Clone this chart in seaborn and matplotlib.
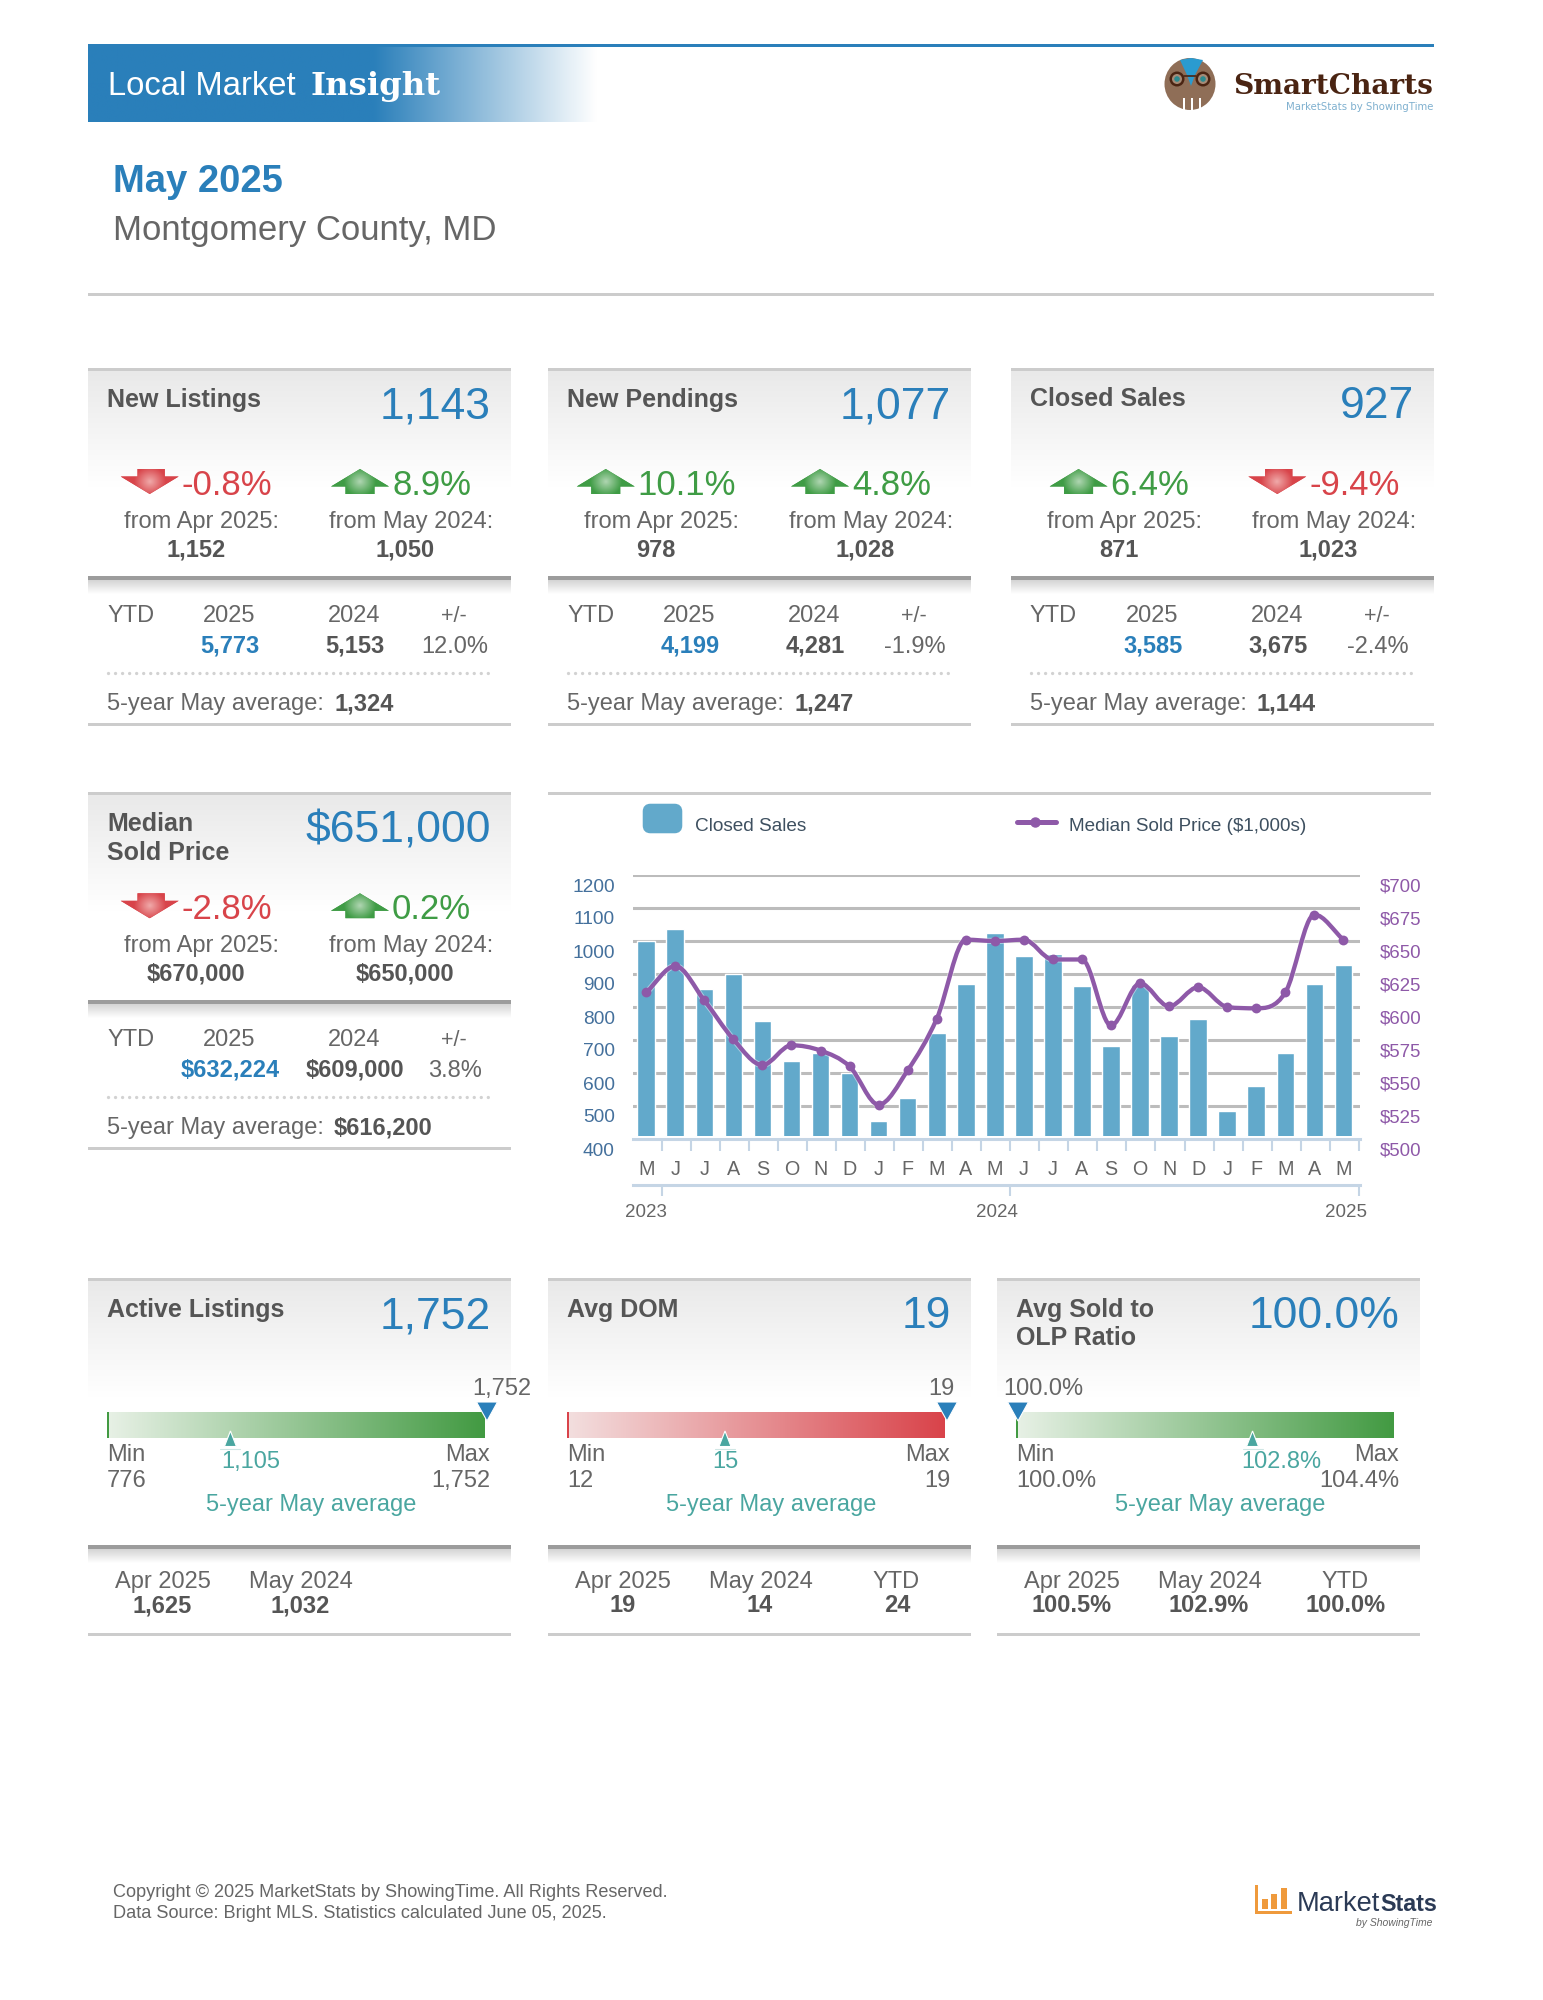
import numpy as np
import matplotlib.pyplot as plt
import pandas as pd
import seaborn as sns
from matplotlib.colors import to_rgb
from matplotlib.patches import Polygon, Rectangle, FancyBboxPatch, Ellipse, Circle, PathPatch
from matplotlib.path import Path
from matplotlib.transforms import ScaledTranslation
import matplotlib.patheffects as pe

# combo chart data
month_labels = ['M', 'J', 'J', 'A', 'S', 'O', 'N', 'D', 'J', 'F', 'M', 'A',
                'M', 'J', 'J', 'A', 'S', 'O', 'N', 'D', 'J', 'F', 'M', 'A', 'M']
closed_sales = [1000, 1036, 855, 901, 758, 636, 660, 600, 455, 523, 720, 871,
                1023, 954, 961, 864, 682, 867, 712, 764, 485, 561, 660, 871, 927]
median_price = [611, 631, 605, 575.5, 556, 571, 567, 555, 526, 552, 591, 651,
                650, 651, 636, 636, 586, 618, 600.5, 615, 600, 599, 611, 670, 651]
left_ticks = [400, 500, 600, 700, 800, 900, 1000, 1100, 1200]
right_ticks = ['$500', '$525', '$550', '$575', '$600', '$625', '$650', '$675', '$700']
year_labels = ['2023', '2024', '2025']

# top cards
kpi_titles = ['New Listings', 'New Pendings', 'Closed Sales', 'Median\nSold Price']
kpi_values = ['1,143', '1,077', '927', '$651,000']
kpi_prev_pct = ['-0.8%', '10.1%', '6.4%', '-2.8%']
kpi_year_pct = ['8.9%', '4.8%', '-9.4%', '0.2%']
kpi_prev_val = ['1,152', '978', '871', '$670,000']
kpi_year_val = ['1,050', '1,028', '1,023', '$650,000']
ytd_2025 = ['5,773', '4,199', '3,585', '$632,224']
ytd_2024 = ['5,153', '4,281', '3,675', '$609,000']
ytd_change = ['12.0%', '-1.9%', '-2.4%', '3.8%']
five_year = ['1,324', '1,247', '1,144', '$616,200']

# bottom cards
gauge_titles = ['Active Listings', 'Avg DOM', 'Avg Sold to\nOLP Ratio']
gauge_values = ['1,752', '19', '100.0%']
gauge_low = [776, 12, 100.0]
gauge_high = [1752, 19, 104.4]
gauge_current = [1752, 19, 100.0]
gauge_avg = [1105, 15, 102.8]
gauge_low_lab = ['776', '12', '100.0%']
gauge_high_lab = ['1,752', '19', '104.4%']
gauge_avg_lab = ['1,105', '15', '102.8%']
gauge_apr = ['1,625', '19', '100.5%']
gauge_may = ['1,032', '14', '102.9%']
gauge_ytd = [None, '24', '100.0%']

BLUE = '#2a7fba'
GREY = '#666666'
DARK = '#555555'
RED = '#d8444a'
GREEN = '#3f9c45'
TEAL = '#4aa6a0'
PURPLE = '#8e59a8'
BAR = '#62a9cb'
RULE = '#cccccc'

sns.set_theme(style='white')
plt.rcParams['font.family'] = ['Liberation Sans', 'DejaVu Sans']

fig = plt.figure(figsize=(15.43, 20), dpi=100)
bg = fig.add_axes([0, 0, 1, 1])
bg.set_xlim(0, 1543)
bg.set_ylim(2000, 0)
bg.set_autoscale_on(False)
bg.axis('off')
renderer = fig.canvas.get_renderer()


def ramp(c0, c1, n=256):
    c0, c1 = np.array(to_rgb(c0)), np.array(to_rgb(c1))
    t = np.linspace(0, 1, n)[:, None]
    return c0 + (c1 - c0) * t


def vgrad(x0, x1, y0, y1, c0, c1):
    bg.imshow(ramp(c0, c1)[:, None, :], extent=(x0, x1, y1, y0), aspect='auto', zorder=1)


def hgrad(x0, x1, y0, y1, c0, c1):
    bg.imshow(ramp(c0, c1)[None, :, :], extent=(x0, x1, y1, y0), aspect='auto', zorder=1)


def txt(x, y, s, size=17, color=GREY, ha='left', weight='normal', **kw):
    return bg.text(x, y, s, fontsize=size, color=color, ha=ha, va='baseline', weight=weight, zorder=5, **kw)


def rule(x0, x1, y, color=RULE, h=3):
    bg.add_patch(Rectangle((x0, y - h / 2), x1 - x0, h, color=color, lw=0, zorder=2))


def card_frame(x0, top, shadow_y):
    rule(x0, x0 + 423, top)
    vgrad(x0, x0 + 423, top + 1, top + 118, '#e9e9e9', '#ffffff')
    bg.add_patch(Rectangle((x0, shadow_y - 2), 423, 4, color='#9c9c9c', lw=0, zorder=2))
    vgrad(x0, x0 + 423, shadow_y + 2, shadow_y + 16, '#d4d4d4', '#ffffff')
    rule(x0, x0 + 423, top + 355)


def card_title(x0, top, title, value):
    for i, line in enumerate(title.split('\n')):
        txt(x0 + 19, top + 37.5 + i * 28.7, line, size=18, color=DARK, weight='bold')
    txt(x0 + 403, top + 49.5, value, size=32, color=BLUE, ha='right')


def draw_arrow(x, y, up):
    w, h = 58, 25
    if up:
        pts = [(.5, 0), (1, .7), (.75, .7), (.75, 1), (.25, 1), (.25, .7), (0, .7)]
        base, light = GREEN, '#b0d6b2'
    else:
        pts = [(.29, 0), (.76, 0), (.76, .3), (1, .3), (.5, 1), (0, .3), (.29, .3)]
        base, light = RED, '#f0aaaa'
    poly = Polygon([(x + a * w, y + b * h) for a, b in pts], closed=True, color=base, lw=0, zorder=3)
    bg.add_patch(poly)
    X, Y = np.meshgrid(np.linspace(0, 1, 60), np.linspace(0, 1, 30))
    t = np.clip(1 - np.hypot((X - .5) / .28, (Y - .5) / .6), 0, 1)[:, :, None]
    arr = np.array(to_rgb(base)) + (np.array(to_rgb(light)) - np.array(to_rgb(base))) * t
    im = bg.imshow(arr, extent=(x, x + w, y + h, y), aspect='auto', zorder=3, interpolation='bilinear')
    im.set_clip_path(poly)


def pct_group(center, top, s):
    up = not s.startswith('-')
    t = txt(0, top + 126, s, size=25, color=GREEN if up else RED)
    w = t.get_window_extent(renderer).width
    left = center - (61 + w) / 2
    t.set_x(left + 61)
    draw_arrow(left, top + 100, up)


def top_card(i, x0, top):
    card_frame(x0, top, top + 209)
    card_title(x0, top, kpi_titles[i], kpi_values[i])
    pct_group(x0 + 108.5, top, kpi_prev_pct[i])
    pct_group(x0 + 313, top, kpi_year_pct[i])
    txt(x0 + 113.5, top + 159, 'from Apr 2025:', ha='center')
    txt(x0 + 323, top + 159, 'from May 2024:', ha='center')
    txt(x0 + 108, top + 187.7, kpi_prev_val[i], color=DARK, ha='center', weight='bold')
    txt(x0 + 317, top + 187.7, kpi_year_val[i], color=DARK, ha='center', weight='bold')
    txt(x0 + 19, top + 252.7, 'YTD')
    txt(x0 + 141, top + 252.7, '2025', ha='center')
    txt(x0 + 266, top + 252.7, '2024', ha='center')
    txt(x0 + 366, top + 252.7, '+/-', size=15.5, ha='center')
    txt(x0 + 142, top + 283.7, ytd_2025[i], color=BLUE, ha='center', weight='bold')
    txt(x0 + 267, top + 283.7, ytd_2024[i], color=DARK, ha='center', weight='bold')
    txt(x0 + 367, top + 283.7, ytd_change[i], ha='center')
    bg.plot([x0 + 20, x0 + 400], [top + 304, top + 304], color='#d2d2d2', lw=2.4,
            ls=(0, (0.01, 2.1)), dash_capstyle='round', zorder=2)
    txt(x0 + 19, top + 341, '5-year May average:')
    txt(x0 + 246, top + 341, five_year[i], color=DARK, weight='bold')


def gauge_card(i, x0, top, cur_dx, avg_dx, start, end):
    card_frame(x0, top, top + 268)
    card_title(x0, top, gauge_titles[i], gauge_values[i])
    bar_l, bar_w = x0 + 19, 378
    hgrad(bar_l, bar_l + bar_w, top + 133, top + 159, start, end)
    bg.add_patch(Rectangle((bar_l, top + 133), 2, 26, color=end, lw=0, zorder=2))

    frac = (gauge_current[i] - gauge_low[i]) / (gauge_high[i] - gauge_low[i])
    tip = bar_l + frac * bar_w + 2
    bg.add_patch(Polygon([(tip - 10.5, top + 123), (tip + 10.5, top + 123), (tip, top + 142)],
                         closed=True, facecolor=BLUE, edgecolor='white', lw=0.8, zorder=4))
    lab = f'{gauge_current[i]:,}' if i < 2 else f'{gauge_current[i]:.1f}%'
    txt(tip + cur_dx, top + 116, lab, ha='center')

    frac = (gauge_avg[i] - gauge_low[i]) / (gauge_high[i] - gauge_low[i])
    avg_x = bar_l + frac * bar_w - 4
    bg.add_patch(Polygon([(avg_x - 6, top + 167.5), (avg_x + 6, top + 167.5), (avg_x, top + 152)],
                         closed=True, facecolor=TEAL, edgecolor='white', lw=0.8, zorder=4))
    bg.plot([avg_x - 10, avg_x + 10], [top + 169.5, top + 169.5], color='#cfe6e4', lw=0.8, zorder=3)
    txt(avg_x + avg_dx, top + 189.3, gauge_avg_lab[i], color=TEAL, ha='center')

    txt(x0 + 19, top + 181.7, 'Min')
    txt(x0 + 19, top + 208.3, gauge_low_lab[i])
    txt(x0 + 402, top + 181.7, 'Max', ha='right')
    txt(x0 + 402, top + 208.3, gauge_high_lab[i], ha='right')
    txt(x0 + 223, top + 231.7, '5-year May average', color=TEAL, ha='center')

    txt(x0 + 75, top + 308.7, 'Apr 2025', ha='center')
    txt(x0 + 212.5, top + 308.7, 'May 2024', ha='center')
    txt(x0 + 74.5, top + 333.3, gauge_apr[i], color=DARK, ha='center', weight='bold')
    txt(x0 + 212, top + 333.3, gauge_may[i], color=DARK, ha='center', weight='bold')
    if gauge_ytd[i]:
        txt(x0 + 348, top + 308.7, 'YTD', ha='center')
        txt(x0 + 349, top + 333.3, gauge_ytd[i], color=DARK, ha='center', weight='bold')


def smooth_path(xs, ys):
    # monotone bezier through the values, same look as the chart's spline
    ys = np.asarray(ys, dtype=float)
    d = np.diff(ys)
    m = np.zeros(len(ys))
    m[0], m[-1] = d[0], d[-1]
    for k in range(1, len(ys) - 1):
        if d[k - 1] * d[k] > 0:
            m[k] = np.sign(d[k]) * min(abs(ys[k + 1] - ys[k - 1]) / 2, 3 * abs(d[k - 1]), 3 * abs(d[k]))
    verts, codes = [(xs[0], ys[0])], [Path.MOVETO]
    for k in range(len(ys) - 1):
        verts += [(xs[k] + 1 / 3, ys[k] + m[k] / 3), (xs[k + 1] - 1 / 3, ys[k + 1] - m[k + 1] / 3), (xs[k + 1], ys[k + 1])]
        codes += [Path.CURVE4] * 3
    return Path(verts, codes)


# header
hgrad(88, 373, 46, 122.5, BLUE, BLUE)
hgrad(373, 597, 46, 122.5, BLUE, '#ffffff')
rule(88, 1434, 45, color=BLUE, h=3)
txt(108, 95, 'Local Market', size=23.6, color='white')
txt(310, 95, 'Insight', size=23.3, color='white', weight='bold', family='DejaVu Serif')

# owl logo
bg.add_patch(Ellipse((1190, 84), 51, 52, color='#8f6e57', lw=0, zorder=2))
bg.add_patch(Polygon([(1180, 60), (1191, 58), (1203, 60), (1195, 75), (1191, 86), (1187, 75)],
                     closed=True, color='#2a9bd0', lw=0, zorder=3))
for ex in (1177, 1203):
    bg.add_patch(Circle((ex, 79), 7.5, color='#4a2412', lw=0, zorder=3))
    bg.add_patch(Circle((ex, 79), 5, color='#a58a76', lw=0, zorder=3))
    bg.add_patch(Circle((ex, 79), 2.8, color='#2d8a8f', lw=0, zorder=3))
bg.plot([1184, 1196], [76, 76], color='#4a2412', lw=1.2, zorder=3)
for fx in (1184, 1192, 1200):
    bg.add_patch(Rectangle((fx - 1, 98), 2, 13, color='white', lw=0, zorder=3))
txt(1233, 94.5, 'SmartCharts', size=20.2, color='#4a2412', weight='bold', family='DejaVu Serif')
txt(1433, 110, 'MarketStats by ShowingTime', size=7.3, color='#7fb0cf', ha='right', family='DejaVu Sans')

# report title
txt(113, 192, 'May 2025', size=27.5, color=BLUE, weight='bold')
txt(113, 240, 'Montgomery County, MD', size=25, color=GREY)
rule(88, 1434, 294)

# cards
card_x = [88, 548, 1011, 88]
card_top = [369, 369, 369, 793.3]
for i in range(4):
    top_card(i, card_x[i], card_top[i])

gauge_x = [88, 548, 997]
gauge_start = ['#e8f1e6', '#f3dfdf', '#e8f1e6']
gauge_end = ['#429a42', '#d9434a', '#429a42']
cur_dx = [15, -6, 25]
avg_dx = [20, 0, 29]
for i in range(3):
    gauge_card(i, gauge_x[i], 1279, cur_dx[i], avg_dx[i], gauge_start[i], gauge_end[i])

# combo chart frame and legend
rule(548, 1431, 793.3)
bg.add_patch(FancyBboxPatch((645.5, 806.5), 34, 24, boxstyle='round,pad=0,rounding_size=5', mutation_aspect=1,
                            facecolor=BAR, edgecolor=BAR, lw=4, zorder=2))
txt(695, 831, 'Closed Sales', size=13.7, color='#3e5060')
bg.plot([1017, 1056], [821.7, 821.7], color=PURPLE, lw=3.6, zorder=2)
bg.plot([1035], [821.7], color=PURPLE, marker='o', ms=6.5, zorder=2)
txt(1069, 831, 'Median Sold Price ($1,000s)', size=13.6, color='#3e5060')

# chart axes placed on the same pixels as the original
L, R, T, B = 632.7, 1360.4, 875, 1139
ax = fig.add_axes([L / 1543, 1 - B / 2000, (R - L) / 1543, (B - T) / 2000])
ax.patch.set_alpha(0)
df = pd.DataFrame({'period': np.arange(len(closed_sales)), 'sales': closed_sales, 'price': median_price})
sns.barplot(data=df, x='period', y='sales', color=BAR, saturation=1, width=0.606, ax=ax, zorder=2)
ax.axhspan(400, 410, color='white', lw=0, zorder=3)
ax.set_xlim(-0.465, 24.585)
ax.set_ylim(400, 1200)
ax.set_xlabel('')
ax.set_ylabel('')
ax.set_yticks(left_ticks)
ax.set_yticklabels([str(v) for v in left_ticks])
ax.yaxis.grid(True, color='#bcbcbc', lw=2.2)
ax.xaxis.grid(False)
ax.set_axisbelow(True)
for s in ('top', 'left', 'right'):
    ax.spines[s].set_visible(False)
ax.spines['bottom'].set_color('#c5d5e5')
ax.spines['bottom'].set_linewidth(2.2)
ax.spines['bottom'].set_zorder(4)
ax.set_xticks(df['period'])
ax.set_xticklabels(month_labels, fontsize=14.2, color=GREY)
ax.set_xticks(df['period'].to_numpy() + 0.53, minor=True)
ax.tick_params(axis='x', which='major', length=0, pad=15)
ax.tick_params(axis='x', which='minor', length=8.5, width=1.5, color='#c5d5e5', bottom=True)
ax.tick_params(axis='y', length=0, pad=13, labelsize=13.8, labelcolor='#44709c')

shift = ScaledTranslation(0, -10 / 100, fig.dpi_scale_trans)
for lab in ax.get_yticklabels():
    lab.set_transform(lab.get_transform() + shift)

sec = ax.secondary_xaxis(-46 / 264)
sec.spines['bottom'].set_color('#c5d5e5')
sec.spines['bottom'].set_linewidth(2.2)
sec.set_xticks([0, 12.08, 24.08])
sec.set_xticklabels(year_labels, fontsize=13.5, color=GREY)
sec.set_xticks([0.53, 12.53, 24.53], minor=True)
sec.tick_params(axis='x', which='major', length=0, pad=13.5)
sec.tick_params(axis='x', which='minor', length=8, width=1.5, color='#c5d5e5', bottom=True)

ax2 = ax.twinx()
ax2.set_ylim(500, 700)
ax2.set_xlim(-0.465, 24.585)
ax2.add_patch(PathPatch(smooth_path(df['period'].to_numpy(), median_price), facecolor='none', edgecolor=PURPLE, lw=3.1,
                        path_effects=[pe.withStroke(linewidth=4.4, foreground='white', alpha=0.45)], zorder=3))
sns.scatterplot(data=df, x='period', y='price', color=PURPLE, s=50, linewidth=0, ax=ax2, zorder=4)
ax2.set_xlim(-0.465, 24.585)
ax2.set_ylim(500, 700)
ax2.set_xlabel('')
ax2.set_ylabel('')
ax2.set_yticks(np.arange(500, 701, 25))
ax2.set_yticklabels(right_ticks)
ax2.tick_params(axis='y', length=0, pad=14, labelsize=13.4, labelcolor=PURPLE)
ax2.grid(False)
for s in ax2.spines.values():
    s.set_visible(False)
for lab in ax2.get_yticklabels():
    lab.set_transform(lab.get_transform() + shift)

# footer
txt(113, 1897, 'Copyright © 2025 MarketStats by ShowingTime. All Rights Reserved.', size=13.1)
txt(113, 1918, 'Data Source: Bright MLS. Statistics calculated June 05, 2025.', size=13.1)

orange = '#ef9a3c'
bg.add_patch(Rectangle((1255, 1885), 2.5, 28, color=orange, lw=0, zorder=2))
bg.add_patch(Rectangle((1255, 1911), 37, 2.5, color=orange, lw=0, zorder=2))
for bx, bh in zip((1262, 1271, 1281), (10, 15, 21)):
    bg.add_patch(Rectangle((bx, 1908.5 - bh), 5.5, bh, color=orange, lw=0, zorder=2))
txt(1297, 1911, 'Market', size=19.6, color='#2b3a55')
txt(1380, 1911, 'Stats', size=16.8, color='#2b3a55', weight='bold')
txt(1432, 1926, 'by ShowingTime', size=7.5, color='#666666', ha='right', style='italic')

fig.savefig('out.png', dpi=100, facecolor='white')
